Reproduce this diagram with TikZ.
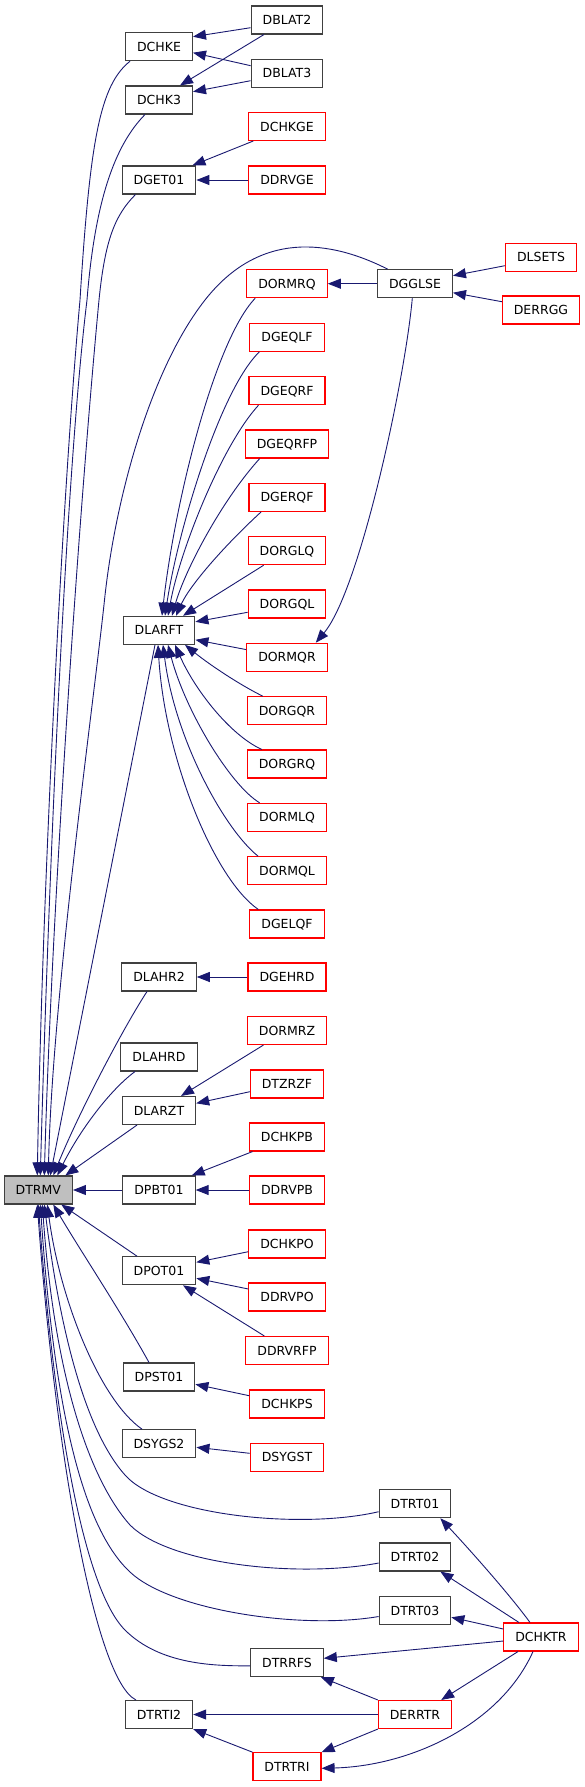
\documentclass[tikz,border=0pt]{standalone}
\usepackage{fontspec}
\setmainfont{DejaVu Sans}
\usetikzlibrary{arrows.meta}
\definecolor{edgeblue}{HTML}{191970}
\definecolor{boxgray}{HTML}{404040}
\definecolor{boxred}{HTML}{FF0000}
\definecolor{curfill}{HTML}{BFBFBF}
\begin{document}
\begin{tikzpicture}[x=1pt,y=-1pt,
  box/.style={draw=boxgray, line width=1.1pt, fill=white, minimum height=28pt,
    inner xsep=11.5pt, inner ysep=0pt, text height=9.1pt, text depth=0pt,
    font=\fontsize{12.5}{15}\selectfont},
  redbox/.style={box, draw=boxred},
  curbox/.style={box, fill=curfill},
  callarr/.style={draw=edgeblue, line width=0.9pt, {Triangle[length=13pt,width=10pt]}-}]
\useasboundingbox (0,0) rectangle (584,1787);
% column 0
\node[curbox] (DTRMV) at (38.3,1190) {DTRMV};
% column 1
\node[box] (DCHKE) at (159,46.7) {DCHKE};
\node[box] (DCHK3) at (159,100) {DCHK3};
\node[box] (DGET01) at (159,180) {DGET01};
\node[box] (DLARFT) at (159,630.3) {DLARFT};
\node[box] (DLAHR2) at (159,977) {DLAHR2};
\node[box] (DLAHRD) at (159,1057) {DLAHRD};
\node[box] (DLARZT) at (159,1110.5) {DLARZT};
\node[box] (DPBT01) at (159,1190) {DPBT01};
\node[box] (DPOT01) at (159,1270.7) {DPOT01};
\node[box] (DPST01) at (159,1377) {DPST01};
\node[box] (DSYGS2) at (159,1443.7) {DSYGS2};
\node[box] (DTRTI2) at (159,1714.5) {DTRTI2};
% column 2
\node[box] (DBLAT2) at (287,20) {DBLAT2};
\node[box] (DBLAT3) at (287,73.3) {DBLAT3};
\node[redbox] (DCHKGE) at (287,126.5) {DCHKGE};
\node[redbox] (DDRVGE) at (287,180) {DDRVGE};
\node[redbox] (DORMRQ) at (287,283.7) {DORMRQ};
\node[redbox] (DGEQLF) at (287,337.3) {DGEQLF};
\node[redbox] (DGEQRF) at (287,390.7) {DGEQRF};
\node[redbox] (DGEQRFP) at (287,444) {DGEQRFP};
\node[redbox] (DGERQF) at (287,497.3) {DGERQF};
\node[redbox] (DORGLQ) at (287,550.7) {DORGLQ};
\node[redbox] (DORGQL) at (287,604) {DORGQL};
\node[redbox] (DORMQR) at (287,657.3) {DORMQR};
\node[redbox] (DORGQR) at (287,710.7) {DORGQR};
\node[redbox] (DORGRQ) at (287,764) {DORGRQ};
\node[redbox] (DORMLQ) at (287,817.3) {DORMLQ};
\node[redbox] (DORMQL) at (287,870.7) {DORMQL};
\node[redbox] (DGELQF) at (287,924) {DGELQF};
\node[redbox] (DGEHRD) at (287,977) {DGEHRD};
\node[redbox] (DORMRZ) at (287,1030.5) {DORMRZ};
\node[redbox] (DTZRZF) at (287,1084) {DTZRZF};
\node[redbox] (DCHKPB) at (287,1137) {DCHKPB};
\node[redbox] (DDRVPB) at (287,1190) {DDRVPB};
\node[redbox] (DCHKPO) at (287,1244) {DCHKPO};
\node[redbox] (DDRVPO) at (287,1297) {DDRVPO};
\node[redbox] (DDRVRFP) at (287,1350.5) {DDRVRFP};
\node[redbox] (DCHKPS) at (287,1404) {DCHKPS};
\node[redbox] (DSYGST) at (287,1457.3) {DSYGST};
\node[box] (DTRRFS) at (287,1662.5) {DTRRFS};
\node[redbox] (DTRTRI) at (287,1766.7) {DTRTRI};
% column 3
\node[box] (DGGLSE) at (415,283.7) {DGGLSE};
\node[box] (DTRT01) at (415,1503.7) {DTRT01};
\node[box] (DTRT02) at (415,1557) {DTRT02};
\node[box] (DTRT03) at (415,1610.5) {DTRT03};
\node[redbox] (DERRTR) at (415,1714.5) {DERRTR};
% column 4
\node[redbox] (DLSETS) at (541,257.3) {DLSETS};
\node[redbox] (DERRGG) at (541,310) {DERRGG};
\node[redbox] (DCHKTR) at (541,1637) {DCHKTR};

% ---- top cluster
\draw[callarr] ([yshift=10pt]DCHKE.east) -- ([yshift=-7.7pt]DBLAT2.west);
\draw[callarr] ([xshift=21pt]DCHK3.north) -- ([xshift=-23pt]DBLAT2.south);
\draw[callarr] ([yshift=-6pt]DCHKE.east) -- ([yshift=7.6pt]DBLAT3.west);
\draw[callarr] ([yshift=8.3pt]DCHK3.east) -- ([yshift=-7.4pt]DBLAT3.west);
\draw[callarr] ([xshift=-4pt]DGET01.north east) -- ([xshift=5pt]DCHKGE.south west);
\draw[callarr] (DGET01.east) -- (DDRVGE.west);
% ---- DGGLSE
\draw[callarr] ([yshift=8pt]DGGLSE.east) -- ([yshift=-8.4pt]DLSETS.west);
\draw[callarr] ([yshift=-9pt]DGGLSE.east) -- ([yshift=8.3pt]DERRGG.west);
\draw[callarr] (DORMRQ.east) -- (DGGLSE.west);
\draw[callarr] ([xshift=-12pt]DORMQR.north east) .. controls (360,590) and (405,380) .. ([xshift=-2.7pt]DGGLSE.south);
% ---- into DLARFT from above
\draw[callarr] ([xshift=3pt]DLARFT.north) .. controls (175,500) and (215,340) .. ([xshift=9pt]DORMRQ.south west);
\draw[callarr] ([xshift=6pt]DLARFT.north) .. controls (178,530) and (220,390) .. ([xshift=10pt]DGEQLF.south west);
\draw[callarr] ([xshift=9pt]DLARFT.north) .. controls (180,550) and (222,445) .. ([xshift=10pt]DGEQRF.south west);
\draw[callarr] ([xshift=13pt]DLARFT.north) .. controls (185,570) and (222,500) .. ([xshift=15pt]DGEQRFP.south west);
\draw[callarr] ([xshift=17pt]DLARFT.north) .. controls (190,585) and (225,545) .. ([xshift=12.7pt]DGERQF.south west);
\draw[callarr] ([xshift=24pt]DLARFT.north) -- ([xshift=16pt]DORGLQ.south west);
\draw[callarr] ([yshift=8.5pt]DLARFT.east) -- ([yshift=-8.3pt]DORGQL.west);
\draw[callarr] ([yshift=-9.5pt]DLARFT.east) -- ([yshift=7.7pt]DORMQR.west);
% ---- into DLARFT from below
\draw[callarr] ([xshift=26pt]DLARFT.south) .. controls (210,665) and (240,685) .. ([xshift=16pt]DORGQR.north west);
\draw[callarr] ([xshift=16pt]DLARFT.south) .. controls (195,690) and (230,735) .. ([xshift=15pt]DORGRQ.north west);
\draw[callarr] ([xshift=9pt]DLARFT.south) .. controls (185,710) and (230,785) .. ([xshift=12.5pt]DORMLQ.north west);
\draw[callarr] ([xshift=4pt]DLARFT.south) .. controls (175,740) and (225,830) .. ([xshift=11pt]DORMQL.north west);
\draw[callarr] ([xshift=-1pt]DLARFT.south) .. controls (165,760) and (215,880) .. ([xshift=9pt]DGELQF.north west);
% ---- into DTRMV from above
\draw[callarr] ([xshift=-1pt]DTRMV.north) .. controls (42,900) and (62,500) .. (80,300) .. controls (90,140) and (100,85) .. ([xshift=5pt]DCHKE.south west);
\draw[callarr] ([xshift=2pt]DTRMV.north) .. controls (48,900) and (65,480) .. (87,300) .. controls (95,200) and (115,145) .. ([xshift=-14pt]DCHK3.south);
\draw[callarr] ([xshift=6pt]DTRMV.north) .. controls (52,900) and (80,500) .. (99,300) .. controls (105,240) and (115,215) .. ([xshift=-23.5pt]DGET01.south);
\draw[callarr] ([xshift=10pt]DTRMV.north) .. controls (52,1000) and (94,700) .. (104.5,600) .. controls (115,500) and (150,370) .. (205,300) .. controls (260,230) and (330,240) .. ([xshift=10.6pt]DGGLSE.north west);
\draw[callarr] ([xshift=12pt]DTRMV.north) -- ([xshift=-4pt]DLARFT.south);
\draw[callarr] ([xshift=15pt]DTRMV.north) .. controls (80,1110) and (125,1025) .. ([xshift=-12pt]DLAHR2.south);
\draw[callarr] ([xshift=19pt]DTRMV.north) .. controls (80,1130) and (110,1090) .. ([xshift=-24pt]DLAHRD.south);
\draw[callarr] ([xshift=27pt]DTRMV.north) -- ([xshift=-22pt]DLARZT.south);
\draw[callarr] (DTRMV.east) -- (DPBT01.west);
% ---- into DTRMV from below
\draw[callarr] ([xshift=23pt]DTRMV.south) -- ([xshift=-22pt]DPOT01.north);
\draw[callarr] ([xshift=15pt]DTRMV.south) .. controls (80,1250) and (120,1310) .. ([xshift=-10pt]DPST01.north);
\draw[callarr] ([xshift=9pt]DTRMV.south) .. controls (60,1300) and (100,1400) .. ([xshift=-17pt]DSYGS2.north);
\draw[callarr] ([xshift=6pt]DTRMV.south) .. controls (60,1330) and (85,1430) .. (125,1475) .. controls (160,1515) and (300,1530) .. ([yshift=-8pt]DTRT01.west);
\draw[callarr] ([xshift=4pt]DTRMV.south) .. controls (55,1380) and (90,1480) .. (130,1525) .. controls (170,1565) and (300,1578) .. ([yshift=-6pt]DTRT02.west);
\draw[callarr] ([xshift=2pt]DTRMV.south) .. controls (55,1420) and (85,1530) .. (130,1572) .. controls (170,1610) and (300,1630) .. ([yshift=-6pt]DTRT03.west);
\draw[callarr] (DTRMV.south) .. controls (55,1430) and (85,1590) .. (125,1630) .. controls (160,1665) and (215,1666) .. ([yshift=-3.3pt]DTRRFS.west);
\draw[callarr] ([xshift=-1pt]DTRMV.south) .. controls (55,1450) and (95,1680) .. ([xshift=-23pt]DTRTI2.north);
% ---- middle callers
\draw[callarr] (DLAHR2.east) -- (DGEHRD.west);
\draw[callarr] ([xshift=22pt]DLARZT.north) -- ([xshift=16.6pt]DORMRZ.south west);
\draw[callarr] ([yshift=7.2pt]DLARZT.east) -- ([yshift=-7.7pt]DTZRZF.west);
\draw[callarr] ([xshift=-4pt]DPBT01.north east) -- ([xshift=3.6pt]DCHKPB.south west);
\draw[callarr] (DPBT01.east) -- (DDRVPB.west);
\draw[callarr] ([yshift=8.4pt]DPOT01.east) -- ([yshift=-7.7pt]DCHKPO.west);
\draw[callarr] ([yshift=-7.6pt]DPOT01.east) -- ([yshift=8pt]DDRVPO.west);
\draw[callarr] ([xshift=24pt]DPOT01.south) -- ([xshift=19pt]DDRVRFP.north west);
\draw[callarr] ([yshift=-7.3pt]DPST01.east) -- ([yshift=8.3pt]DCHKPS.west);
\draw[callarr] ([yshift=-3.6pt]DSYGS2.east) -- ([yshift=4pt]DSYGST.west);
% ---- bottom cluster
\draw[callarr] ([xshift=-11pt]DTRT01.south east) .. controls (470,1550) and (510,1595) .. ([xshift=-11pt]DCHKTR.north);
\draw[callarr] ([xshift=-11pt]DTRT02.south east) -- ([xshift=-22pt]DCHKTR.north);
\draw[callarr] ([yshift=-6.8pt]DTRT03.east) -- ([yshift=8pt]DCHKTR.west);
\draw[callarr] ([yshift=4.2pt]DTRRFS.east) -- ([yshift=-4pt]DCHKTR.west);
\draw[callarr] ([xshift=-11pt]DERRTR.north east) -- ([xshift=-23pt]DCHKTR.south);
\draw[callarr] ([yshift=-1.6pt]DTRTRI.east) .. controls (410,1766) and (500,1725) .. ([xshift=-8pt]DCHKTR.south);
\draw[callarr] ([xshift=-3pt]DTRRFS.south east) -- (DERRTR.north west);
\draw[callarr] (DTRTI2.east) -- (DERRTR.west);
\draw[callarr] (DTRTRI.north east) -- (DERRTR.south west);
\draw[callarr] (DTRTI2.south east) -- (DTRTRI.north west);
\end{tikzpicture}
\end{document}
